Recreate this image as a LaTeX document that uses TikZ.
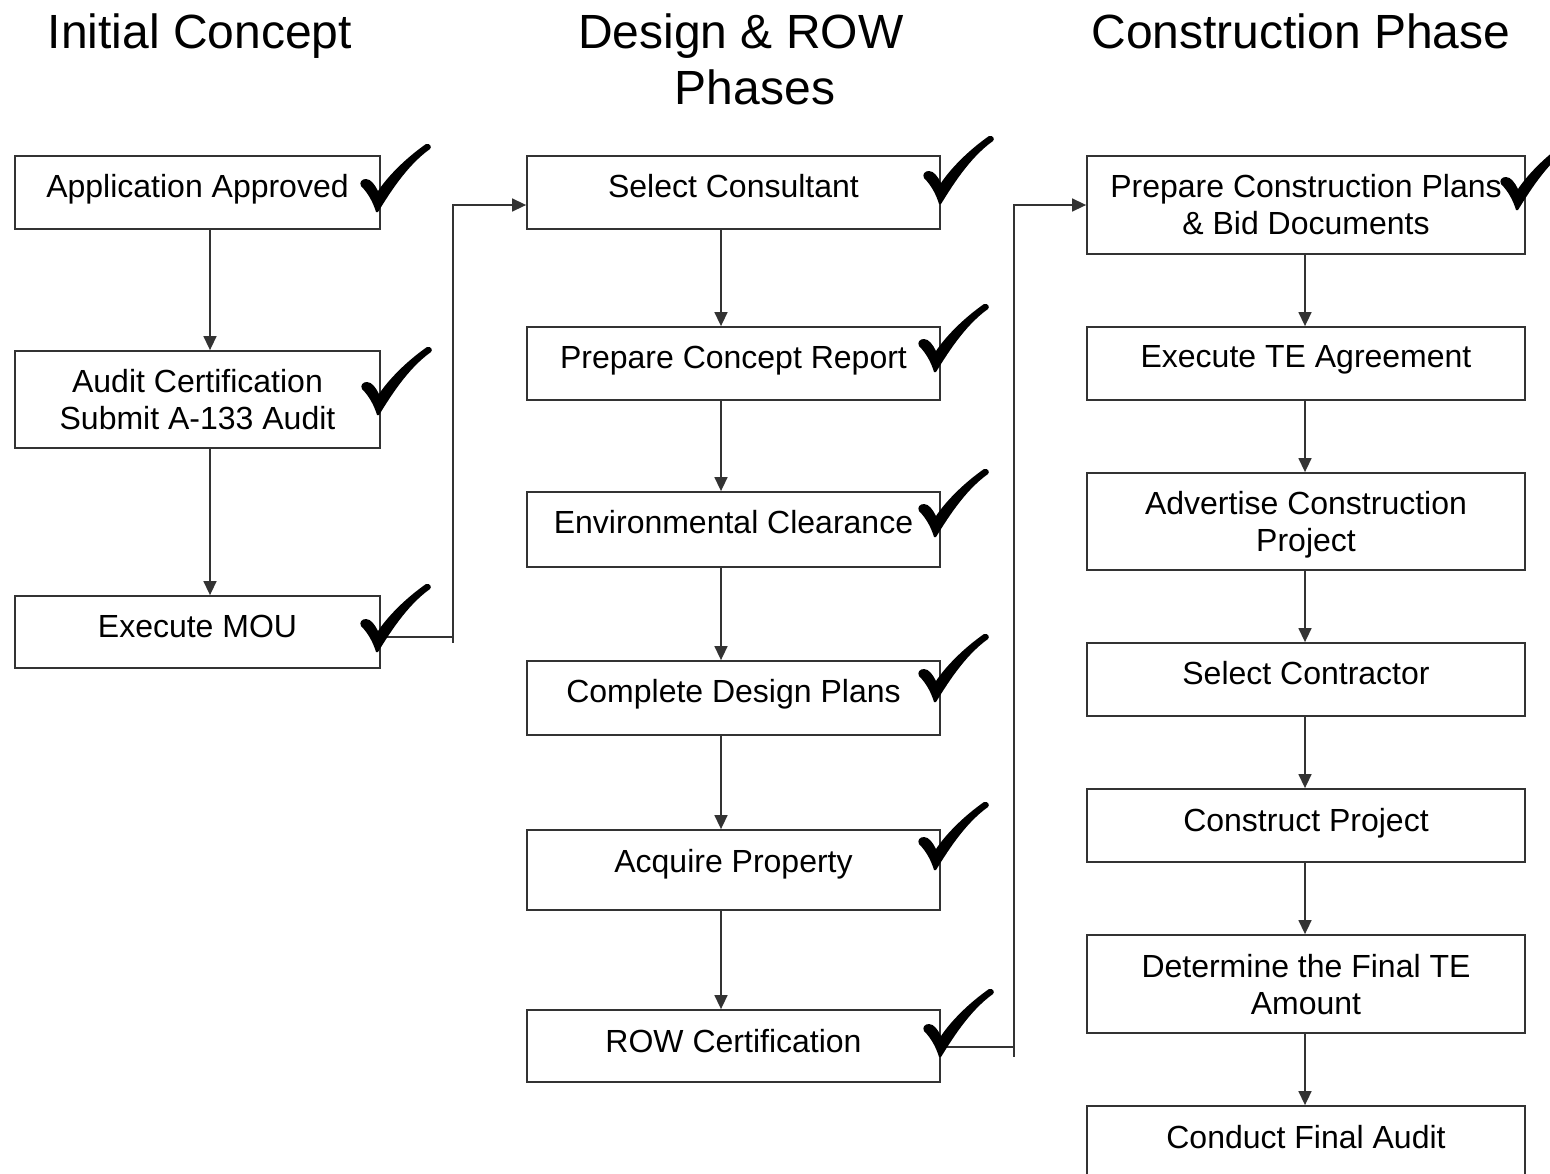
\documentclass[tikz,border=0pt]{standalone}
\usepackage{fontspec}
\setmainfont{Liberation Sans}
\usetikzlibrary{arrows.meta}
\definecolor{linec}{HTML}{333333}
\newcommand\myboxfont{\fontsize{32}{37}\selectfont}
\newcommand\mytitlefont{\fontsize{48}{56}\selectfont}
\begin{document}
\begin{tikzpicture}[x=1pt,y=-1pt,
  box/.style={draw=linec, line width=1.8pt, fill=white, inner sep=0pt},
  lbl/.style={anchor=north, inner sep=0pt, align=center, font=\myboxfont, text=black},
  ttl/.style={anchor=base, inner sep=0pt, font=\mytitlefont, text=black},
  conn/.style={draw=linec, line width=1.5pt},
  arr/.style={conn, -{Triangle[length=14pt,width=13pt]}},
  chk/.pic={\fill[black] (0,2) .. controls (10,-14) and (28,-44) .. (52,-61)
     .. controls (54,-63) and (52,-67) .. (48,-66)
     .. controls (28,-52) and (10,-34) .. (0,-19)
     .. controls (-3,-25) and (-7,-31) .. (-12,-31)
     .. controls (-16,-31) and (-19,-28) .. (-17,-24)
     .. controls (-10,-17) and (-5,-8) .. (-2,2) -- cycle;}
]
\useasboundingbox (0,0) rectangle (1550,1173);
\fill[white] (0,0) rectangle (1550,1173);
\begin{scope}
\clip (0,0) rectangle (1550,1173);
% titles
\node[ttl] (t1) at (200,48) {Initial Concept};
\node[ttl] (t2a) at (741,48) {Design \& ROW};
\node[ttl] (t2b) at (755,104) {Phases};
\node[ttl] (t3) at (1301,48) {Construction Phase};

% column 1
\node[box, minimum width=365pt, minimum height=73pt] (a1) at (197.5,192.5) {};
\node[box, minimum width=365pt, minimum height=97pt] (a2) at (197.5,399.5) {};
\node[box, minimum width=365pt, minimum height=72pt] (a3) at (197.5,632) {};
% column 2
\node[box, minimum width=413pt, minimum height=73pt] (b1) at (733.5,192.5) {};
\node[box, minimum width=413pt, minimum height=73pt] (b2) at (733.5,363.5) {};
\node[box, minimum width=413pt, minimum height=75pt] (b3) at (733.5,529.5) {};
\node[box, minimum width=413pt, minimum height=74pt] (b4) at (733.5,698) {};
\node[box, minimum width=413pt, minimum height=80pt] (b5) at (733.5,870) {};
\node[box, minimum width=413pt, minimum height=72pt] (b6) at (733.5,1046) {};
% column 3
\node[box, minimum width=438pt, minimum height=98pt] (c1) at (1306,205) {};
\node[box, minimum width=438pt, minimum height=73pt] (c2) at (1306,363.5) {};
\node[box, minimum width=438pt, minimum height=97pt] (c3) at (1306,521.5) {};
\node[box, minimum width=438pt, minimum height=73pt] (c4) at (1306,679.5) {};
\node[box, minimum width=438pt, minimum height=73pt] (c5) at (1306,825.5) {};
\node[box, minimum width=438pt, minimum height=98pt] (c6) at (1306,984) {};
\node[box, minimum width=438pt, minimum height=73pt] (c7) at (1306,1142.5) {};

% labels
\node[lbl] (la1) at ([yshift=-19.5pt]a1.north) {Application Approved};
\node[lbl] (la2) at ([yshift=-19.5pt]a2.north) {Audit Certification\\Submit A-133 Audit};
\node[lbl] (la3) at ([yshift=-19.5pt]a3.north) {Execute MOU};
\node[lbl] (lb1) at ([yshift=-19.5pt]b1.north) {Select Consultant};
\node[lbl] (lb2) at ([yshift=-19.5pt]b2.north) {Prepare Concept Report};
\node[lbl] (lb3) at ([yshift=-19.5pt]b3.north) {Environmental Clearance};
\node[lbl] (lb4) at ([yshift=-19.5pt]b4.north) {Complete Design Plans};
\node[lbl] (lb5) at ([yshift=-19.5pt]b5.north) {Acquire Property};
\node[lbl] (lb6) at ([yshift=-19.5pt]b6.north) {ROW Certification};
\node[lbl] (lc1) at ([yshift=-19.5pt]c1.north) {Prepare Construction Plans\\\& Bid Documents};
\node[lbl] (lc2) at ([yshift=-19.5pt]c2.north) {Execute TE Agreement};
\node[lbl] (lc3) at ([yshift=-19.5pt]c3.north) {Advertise Construction\\Project};
\node[lbl] (lc4) at ([yshift=-19.5pt]c4.north) {Select Contractor};
\node[lbl] (lc5) at ([yshift=-19.5pt]c5.north) {Construct Project};
\node[lbl] (lc6) at ([yshift=-19.5pt]c6.north) {Determine the Final TE\\Amount};
\node[lbl] (lc7) at ([yshift=-19.5pt]c7.north) {Conduct Final Audit};

% vertical arrows
\draw[arr] ([xshift=12.5pt]a1.south) -- ([xshift=12.5pt]a2.north);
\draw[arr] ([xshift=12.5pt]a2.south) -- ([xshift=12.5pt]a3.north);
\foreach \p/\q in {b1/b2,b2/b3,b3/b4,b4/b5,b5/b6}
  \draw[arr] ([xshift=-12.5pt]\p.south) -- ([xshift=-12.5pt]\q.north);
\foreach \p/\q in {c1/c2,c2/c3,c3/c4,c4/c5,c5/c6,c6/c7}
  \draw[arr] ([xshift=-1pt]\p.south) -- ([xshift=-1pt]\q.north);

% elbow connectors
\coordinate (j1a) at (453,637);
\coordinate (j1b) at (453,643);
\coordinate (j1c) at (453,205);
\draw[conn] (j1a) -- (j1b);
\draw[arr] ([yshift=-5pt]a3.east) -- (j1a) -- (j1c) -- ([yshift=-12.5pt]b1.west);
\coordinate (j2a) at (1014,1047);
\coordinate (j2b) at (1014,1057);
\coordinate (j2c) at (1014,205);
\draw[conn] (j2a) -- (j2b);
\draw[arr] ([yshift=-1pt]b6.east) -- (j2a) -- (j2c) -- (c1.west);

% check marks
\pic (k1) at (378,210) {chk};
\pic (k2) at (379,413) {chk};
\pic (k3) at (378,650) {chk};
\pic (k4) at (941,202) {chk};
\pic (k5) at (936,370) {chk};
\pic (k6) at (936,535) {chk};
\pic (k7) at (936,700) {chk};
\pic (k8) at (936,868) {chk};
\pic (k9) at (941,1055) {chk};
\pic (k10) at (1518,208) {chk};
\end{scope}
\end{tikzpicture}
\end{document}
